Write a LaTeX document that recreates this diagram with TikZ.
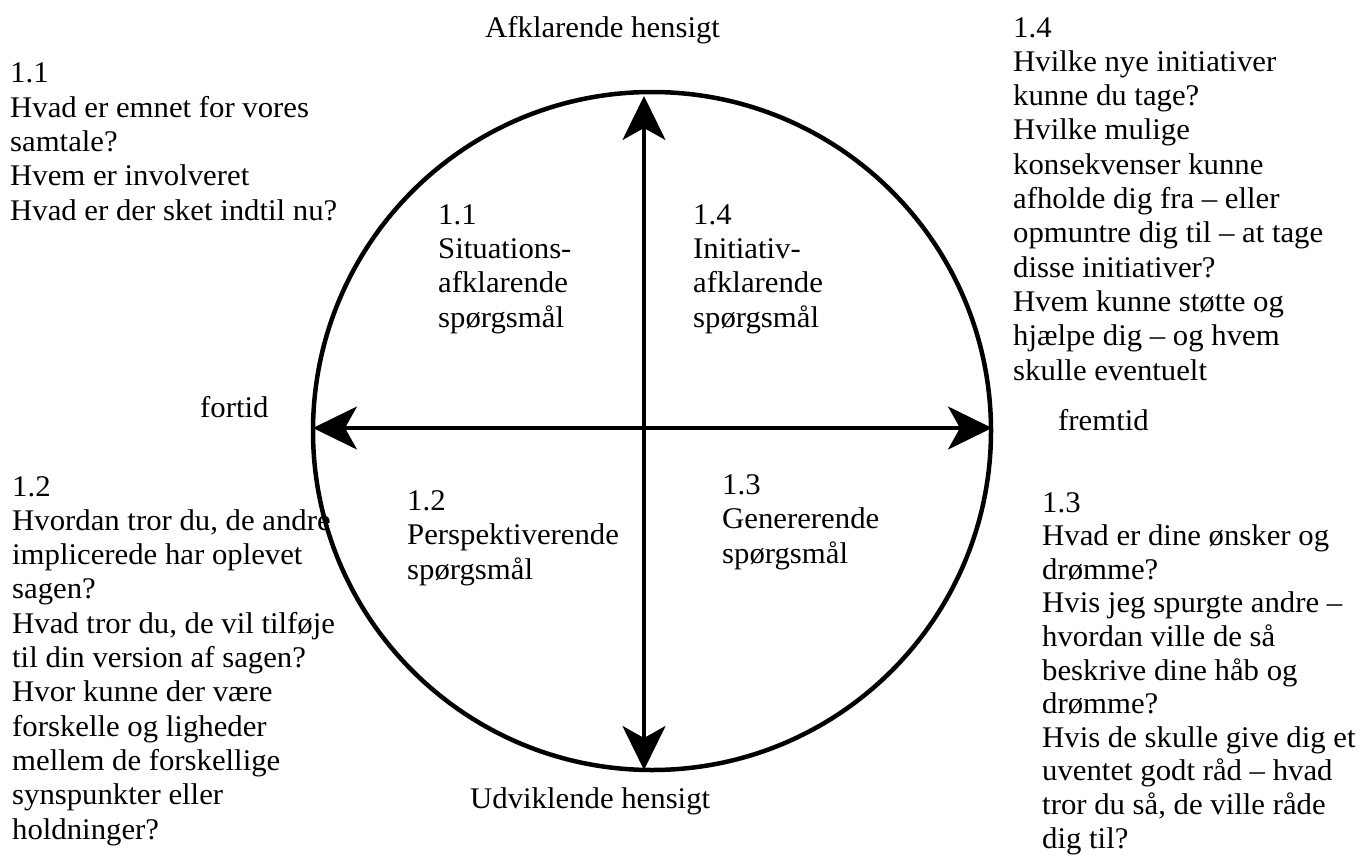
\documentclass[tikz,border=0pt]{standalone}
\usepackage{fontspec}
\setmainfont{Liberation Serif}[FakeStretch=1.025]
\usetikzlibrary{arrows.meta}
\begin{document}
\begin{tikzpicture}[x=1pt,y=-1pt,
  txt/.style={font=\fontsize{30}{34.3}\selectfont, inner sep=0pt, align=left, anchor=base west},
  tip/.tip={Stealth[length=44pt,width=43pt,inset=12pt]},
  axis/.style={line width=3.2pt, {tip}-{tip}}]
\useasboundingbox (0,0) rectangle (1365,862);
\node[circle, draw, line width=4.5pt, minimum size=678pt, inner sep=0pt] (c) at (652,431) {};
\coordinate (t) at (644,96);
\coordinate (b) at (644,770);
\coordinate (l) at (313,428);
\coordinate (r) at (992,428);
\draw[axis] (l) -- (r);
\draw[axis] (t) -- (b);

\node[txt] (top) at (485,37) {Afklarende hensigt};
\node[txt] (bot) at (470,808) {Udviklende hensigt};
\node[txt] (past) at (200,417) {fortid};
\node[txt] (fut) at (1058,430) {fremtid};

% base anchor = baseline of last line
\node[txt] (q1) at (438,327) {1.1\\Situations-\\afklarende\\spørgsmål};
\node[txt] (q4) at (693,327) {1.4\\Initiativ-\\afklarende\\spørgsmål};
\node[txt] (q2) at (407,579) {1.2\\Perspektiverende\\spørgsmål};
\node[txt] (q3) at (722,563) {1.3\\Genererende\\spørgsmål};

\node[txt] (t1) at (10,220) {1.1\\Hvad er emnet for vores\\samtale?\\Hvem er involveret\\Hvad er der sket indtil nu?};
\node[txt] (t4) at (1013,380) {1.4\\Hvilke nye initiativer\\kunne du tage?\\Hvilke mulige\\konsekvenser kunne\\afholde dig fra – eller\\opmuntre dig til – at tage\\disse initiativer?\\Hvem kunne støtte og\\hjælpe dig – og hvem\\skulle eventuelt};
\node[txt] (t2) at (12,839) {1.2\\Hvordan tror du, de andre\\implicerede har oplevet\\sagen?\\Hvad tror du, de vil tilføje\\til din version af sagen?\\Hvor kunne der være\\forskelle og ligheder\\mellem de forskellige\\synspunkter eller\\holdninger?};
\node[txt, font=\fontsize{30}{33.6}\selectfont] (t3) at (1042,848) {1.3\\Hvad er dine ønsker og\\drømme?\\Hvis jeg spurgte andre –\\hvordan ville de så\\beskrive dine håb og\\drømme?\\Hvis de skulle give dig et\\uventet godt råd – hvad\\tror du så, de ville råde\\dig til?};
\end{tikzpicture}
\end{document}
